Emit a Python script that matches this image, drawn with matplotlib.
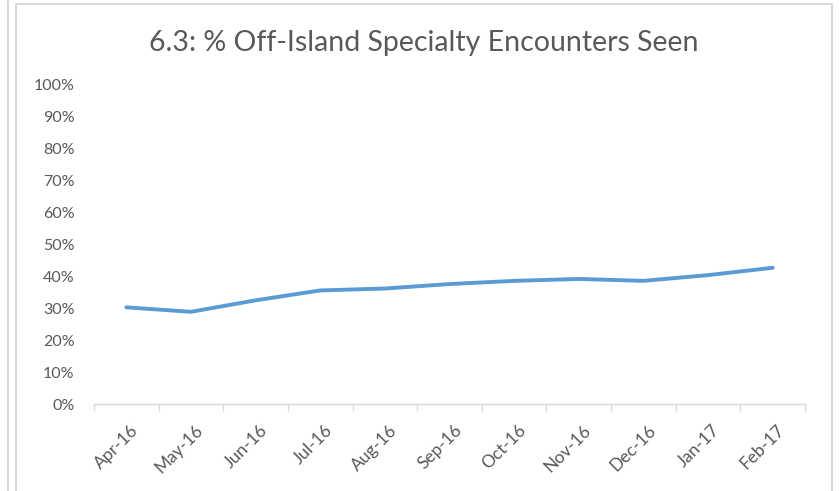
"""Linha: % Off-Island Specialty Encounters Seen (estilo Excel)."""

import matplotlib
matplotlib.use("Agg")
import matplotlib.pyplot as plt
import matplotlib.transforms as mtransforms
from matplotlib.lines import Line2D
from matplotlib.ticker import FixedLocator, PercentFormatter

# Dados
months = ["Apr-16", "May-16", "Jun-16", "Jul-16", "Aug-16", "Sep-16",
          "Oct-16", "Nov-16", "Dec-16", "Jan-17", "Feb-17"]
pct_seen = [0.303, 0.289, 0.325, 0.356, 0.362, 0.376,
            0.386, 0.392, 0.386, 0.404, 0.427]
y_ticks = [0.0, 0.1, 0.2, 0.3, 0.4, 0.5, 0.6, 0.7, 0.8, 0.9, 1.0]

TEXT = "#595959"
GRID = "#d9d9d9"
LINE = "#5b9bd5"

plt.rcParams["font.family"] = ["Lato", "DejaVu Sans"]

fig = plt.figure(figsize=(8.39, 4.91), dpi=100)
ax = fig.add_axes([94 / 839, 1 - 404 / 491, 711 / 839, 319 / 491])

x = list(range(len(months)))
ax.plot(x, pct_seen, color=LINE, linewidth=2.8, solid_capstyle="round",
        solid_joinstyle="round")

ax.set_xlim(-0.5, len(months) - 0.5)
ax.set_ylim(0, 1)
ax.set_yticks(y_ticks)
ax.yaxis.set_major_formatter(PercentFormatter(1.0, decimals=0))
ax.tick_params(axis="y", length=0, colors=TEXT, labelsize=11.5, pad=14)

ax.set_xticks(x)
ax.set_xticklabels(months, rotation=45, ha="right", rotation_mode="anchor")
ax.tick_params(axis="x", which="major", length=0, colors=TEXT,
               labelsize=12.5, pad=13)
# desloca levemente os rótulos para a direita, como no Excel
shift = mtransforms.ScaledTranslation(4 / 100, 0, fig.dpi_scale_trans)
for lbl in ax.get_xticklabels():
    lbl.set_transform(lbl.get_transform() + shift)
ax.xaxis.set_minor_locator(FixedLocator([i - 0.5 for i in range(len(months) + 1)]))
ax.tick_params(axis="x", which="minor", length=5, width=1, color=GRID)

for side in ["top", "right", "left"]:
    ax.spines[side].set_visible(False)
ax.spines["bottom"].set_color(GRID)
ax.spines["bottom"].set_linewidth(1)

fig.text(0.5 * (15 + 832) / 839, 1 - 43 / 491,
         "6.3: % Off-Island Specialty Encounters Seen",
         ha="center", va="center", fontsize=20.5, color=TEXT)

# Bordas do quadro (gráfico vizinho à esquerda e moldura)
def px_line(xs, ys):
    fig.add_artist(Line2D([v / 839 for v in xs], [1 - v / 491 for v in ys],
                          transform=fig.transFigure, color=GRID, linewidth=1.5))

px_line([7.5, 7.5], [0, 491])
px_line([15.5, 15.5, 831.5, 831.5], [491, 3.5, 3.5, 491])

plt.savefig("out.png", dpi=100)
plt.close()
